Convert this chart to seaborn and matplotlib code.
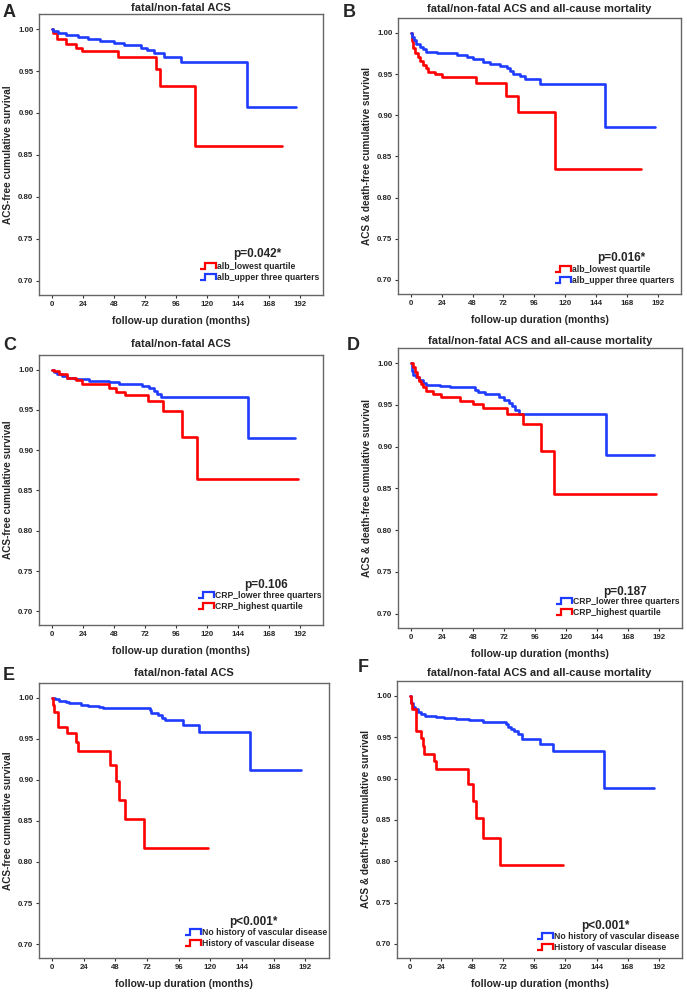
import matplotlib
matplotlib.use("Agg")
import matplotlib.pyplot as plt
from matplotlib.legend_handler import HandlerBase
from matplotlib.lines import Line2D
import seaborn as sns

sns.set_style("ticks")
plt.rcParams['font.family'] = ['Liberation Sans', 'DejaVu Sans']
plt.rcParams['font.weight'] = 'bold'

RED = '#ff0000'
BLUE = '#1e3cff'

# --- Kaplan-Meier step points (month of drop, survival after drop) ---
# A: albumin, fatal/non-fatal ACS
a_low_t = [0, 1, 4, 11, 19, 23.5, 51, 81, 84, 111, 178]
a_low_s = [1.0, 0.995, 0.988, 0.982, 0.978, 0.974, 0.967, 0.952, 0.932, 0.861, 0.861]
a_up_t = [0, 1, 4.7, 11, 20, 28, 37, 48, 56, 69, 74, 79, 87, 100, 151, 189]
a_up_s = [1.0, 0.998, 0.995, 0.9935, 0.991, 0.988, 0.9857, 0.9833, 0.9805, 0.978, 0.975,
          0.972, 0.967, 0.961, 0.907, 0.907]

# B: albumin, ACS and all-cause mortality
b_low_t = [0, 0.8, 1.6, 3.4, 5.2, 7.2, 9.3, 11.9, 13.7, 18.9, 24, 51, 74, 83.5, 112, 179]
b_low_s = [1.0, 0.990, 0.981, 0.975, 0.971, 0.966, 0.961, 0.957, 0.953, 0.950, 0.946,
           0.939, 0.923, 0.904, 0.835, 0.835]
b_up_t = [0, 1, 2.1, 4.1, 7.2, 9.8, 11.9, 20.2, 25.3, 35.7, 43.4, 48.6, 56.3, 61.5, 69.3,
          74.4, 77, 79.6, 84.8, 88.6, 100.3, 150.6, 189.4]
b_up_s = [1.0, 0.995, 0.991, 0.987, 0.983, 0.980, 0.977, 0.976, 0.975, 0.973, 0.971, 0.968,
          0.965, 0.9625, 0.960, 0.957, 0.954, 0.950, 0.947, 0.944, 0.9375, 0.8855, 0.8855]

# C: CRP, fatal/non-fatal ACS
c_low_t = [0, 1.3, 3.9, 7.8, 11.7, 18.2, 28.5, 44.1, 51.9, 70.1, 75.2, 79.1, 81.7, 84.3, 151.8, 188]
c_low_s = [1.0, 0.997, 0.994, 0.992, 0.990, 0.988, 0.986, 0.984, 0.982, 0.979, 0.9765,
           0.973, 0.970, 0.966, 0.9144, 0.9144]
c_high_t = [0, 1.3, 5.2, 11.7, 18.7, 23.4, 44.6, 49.3, 56.6, 74.7, 86.4, 100.7, 112.6, 190.7]
c_high_s = [1.0, 0.998, 0.994, 0.990, 0.987, 0.982, 0.977, 0.972, 0.968, 0.9615, 0.948,
            0.9157, 0.864, 0.864]

# D: CRP, ACS and all-cause mortality
d_low_t = [0, 0.8, 1.8, 3.9, 6.5, 9.1, 11.8, 22.2, 30, 49.6, 52.2, 57.5, 67.9, 71.8, 75.8,
           78.4, 81, 83.6, 151.5, 188.1]
d_low_s = [1.0, 0.991, 0.986, 0.983, 0.980, 0.976, 0.9736, 0.972, 0.971, 0.9675, 0.9655,
           0.9627, 0.9595, 0.956, 0.9527, 0.9487, 0.9443, 0.9395, 0.8894, 0.8894]
d_high_t = [0, 1.8, 2.9, 4.4, 6.5, 8.1, 9.7, 11.8, 17, 23.5, 37.9, 48.3, 56.2, 74.5, 86.7,
            100.6, 111, 189.9]
d_high_s = [1.0, 0.9948, 0.9888, 0.9836, 0.9788, 0.9748, 0.9708, 0.9667, 0.9627, 0.9595,
            0.9547, 0.9507, 0.9459, 0.9395, 0.9267, 0.8942, 0.8437, 0.8437]

# E: vascular disease history, fatal/non-fatal ACS
e_no_t = [0, 2, 5.1, 10.2, 12.8, 21.7, 26.8, 35.7, 38.3, 74, 75.3, 80.4, 83, 85.5, 99.6,
          111.1, 150, 188.4]
e_no_s = [1.0, 0.998, 0.996, 0.9952, 0.9932, 0.9911, 0.9895, 0.9883, 0.9875, 0.9851, 0.9819,
          0.9787, 0.9758, 0.9726, 0.9666, 0.9581, 0.9126, 0.9126]
e_yes_t = [0, 0.5, 1.3, 4.6, 11, 18.4, 19.4, 44.2, 48.5, 50.5, 55.4, 69.4, 117.9]
e_yes_s = [1.0, 0.9911, 0.9827, 0.965, 0.9565, 0.9465, 0.9356, 0.9183, 0.8981, 0.876,
           0.8519, 0.8172, 0.8172]

# F: vascular disease history, ACS and all-cause mortality
f_no_t = [0, 0.8, 2.1, 4.1, 6.2, 8.5, 11.8, 20.1, 26.5, 35.5, 45.8, 56.1, 61.3, 74.1, 75.4,
          78, 80.6, 83.1, 86.5, 100.4, 110.7, 150.1, 188.7]
f_no_s = [1.0, 0.9908, 0.9869, 0.9837, 0.9809, 0.9781, 0.9757, 0.9745, 0.9729, 0.9717,
          0.9705, 0.9689, 0.9681, 0.9661, 0.9629, 0.9598, 0.957, 0.9538, 0.9478, 0.9418,
          0.9339, 0.8892, 0.8892]
f_yes_t = [0, 0.5, 1.5, 4.6, 8.5, 10.3, 11.1, 18.8, 20.1, 44.5, 48.9, 51, 56.1, 69.8, 117.9]
f_yes_s = [1.0, 0.9908, 0.9837, 0.957, 0.949, 0.9398, 0.9303, 0.9211, 0.9112, 0.8932,
           0.8733, 0.8526, 0.8287, 0.7956, 0.7956]

title_acs = 'fatal/non-fatal ACS'
title_all = 'fatal/non-fatal ACS and all-cause mortality'
ylab_acs = 'ACS-free cumulative survival'
ylab_all = 'ACS & death-free cumulative survival'
xlab = 'follow-up duration (months)'
yticks = [0.70, 0.75, 0.80, 0.85, 0.90, 0.95, 1.00]
xticks = [0, 24, 48, 72, 96, 120, 144, 168, 192]

# letter, title, ylabel, p text, series in legend order (t, s, color, label)
panels = [
    ('A', title_acs, ylab_acs, 'p=0.042*',
     [(a_low_t, a_low_s, RED, 'alb_lowest quartile'),
      (a_up_t, a_up_s, BLUE, 'alb_upper three quarters')]),
    ('B', title_all, ylab_all, 'p=0.016*',
     [(b_low_t, b_low_s, RED, 'alb_lowest quartile'),
      (b_up_t, b_up_s, BLUE, 'alb_upper three quarters')]),
    ('C', title_acs, ylab_acs, 'p=0.106',
     [(c_low_t, c_low_s, BLUE, 'CRP_lower three quarters'),
      (c_high_t, c_high_s, RED, 'CRP_highest quartile')]),
    ('D', title_all, ylab_all, 'p=0.187',
     [(d_low_t, d_low_s, BLUE, 'CRP_lower three quarters'),
      (d_high_t, d_high_s, RED, 'CRP_highest quartile')]),
    ('E', title_acs, ylab_acs, 'p<0.001*',
     [(e_no_t, e_no_s, BLUE, 'No history of vascular disease'),
      (e_yes_t, e_yes_s, RED, 'History of vascular disease')]),
    ('F', title_all, ylab_all, 'p<0.001*',
     [(f_no_t, f_no_s, BLUE, 'No history of vascular disease'),
      (f_yes_t, f_yes_s, RED, 'History of vascular disease')]),
]

# layout in pixels: axes box (left, top, right, bottom), letter pos, title pad,
# p-text pos (axes frac), legend (left px, bottom offset px)
W, H = 687, 992
boxes = [(39, 14, 323, 295), (398, 18, 681, 294),
         (39, 355, 323, 625), (398, 348, 682, 628),
         (39, 683, 329, 958), (397, 681, 682, 958)]
letters_xy = [(3, 17), (343, 17), (3, 350), (347, 350), (3, 680), (358, 672)]
title_pads = [2, 4.5, 6, 3, 5, 3.5]
ptext_xy = [(0.77, 0.146), (0.79, 0.13), (0.80, 0.148), (0.80, 0.129), (0.74, 0.131), (0.73, 0.115)]
legend_pos = [(200, 13), (555, 9), (198, 14), (556, 11), (185, 10), (537, 6)]


class StepHandler(HandlerBase):
    # small step-shaped legend key, like SPSS survival plots
    def create_artists(self, legend, orig_handle, xdescent, ydescent, width, height, fontsize, trans):
        x0, y0 = -xdescent, -ydescent
        xs = [x0, x0 + 0.35 * width, x0 + 0.35 * width, x0 + width, x0 + width]
        ys = [y0 + 0.05 * height, y0 + 0.05 * height, y0 + 0.95 * height,
              y0 + 0.95 * height, y0 + 0.05 * height]
        ln = Line2D(xs, ys, color=orig_handle.get_color(), lw=1.6,
                    solid_joinstyle='miter', solid_capstyle='butt')
        ln.set_transform(trans)
        return [ln]


fig = plt.figure(figsize=(W / 100, H / 100), dpi=100)
fig.patch.set_facecolor('white')

for i, (letter, title, ylab, ptxt, series) in enumerate(panels):
    l, t, r, b = boxes[i]
    ax = fig.add_axes([l / W, 1 - b / H, (r - l) / W, (b - t) / H])
    for ts, ss, col, lab in series:
        sns.lineplot(x=ts, y=ss, ax=ax, color=col, linewidth=1.9, drawstyle='steps-post',
                     estimator=None, sort=False, label=lab)
    ax.set_xlim(-10, 210)
    ax.set_ylim(0.683, 1.018)
    ax.set_xticks(xticks)
    ax.set_yticks(yticks)
    ax.set_yticklabels([f'{v:.2f}' for v in yticks])
    ax.tick_params(labelsize=5.7, length=2.5, width=0.8, color='#333333', pad=1.5)
    for lb in ax.get_xticklabels() + ax.get_yticklabels():
        lb.set_fontweight('bold')
    for sp in ax.spines.values():
        sp.set_visible(True)
        sp.set_color('#666666')
        sp.set_linewidth(1.0)
    ax.set_title(title, fontsize=8, fontweight='bold', pad=title_pads[i])
    ax.set_xlabel(xlab, fontsize=7.5, fontweight='bold', labelpad=6)
    ax.set_ylabel(ylab, fontsize=7.2, fontweight='bold', labelpad=4)
    px, py = ptext_xy[i]
    ax.text(px, py, ptxt, transform=ax.transAxes, ha='center', va='center',
            fontsize=8.5, fontweight='bold')
    hl, hb = legend_pos[i]
    handles, labels = ax.get_legend_handles_labels()
    ax.legend(handles, labels, loc='lower left',
              bbox_to_anchor=((hl - l) / (r - l), hb / (b - t)),
              frameon=False, borderpad=0, borderaxespad=0,
              handlelength=1.8, handleheight=0.8, handletextpad=0.12, labelspacing=0.2,
              handler_map={Line2D: StepHandler()}, prop={'weight': 'bold', 'size': 6.2})
    lx, ly = letters_xy[i]
    fig.text(lx / W, 1 - ly / H, letter, fontsize=13, fontweight='bold',
             ha='left', va='baseline')

fig.savefig('out.png', dpi=100, facecolor='white')
